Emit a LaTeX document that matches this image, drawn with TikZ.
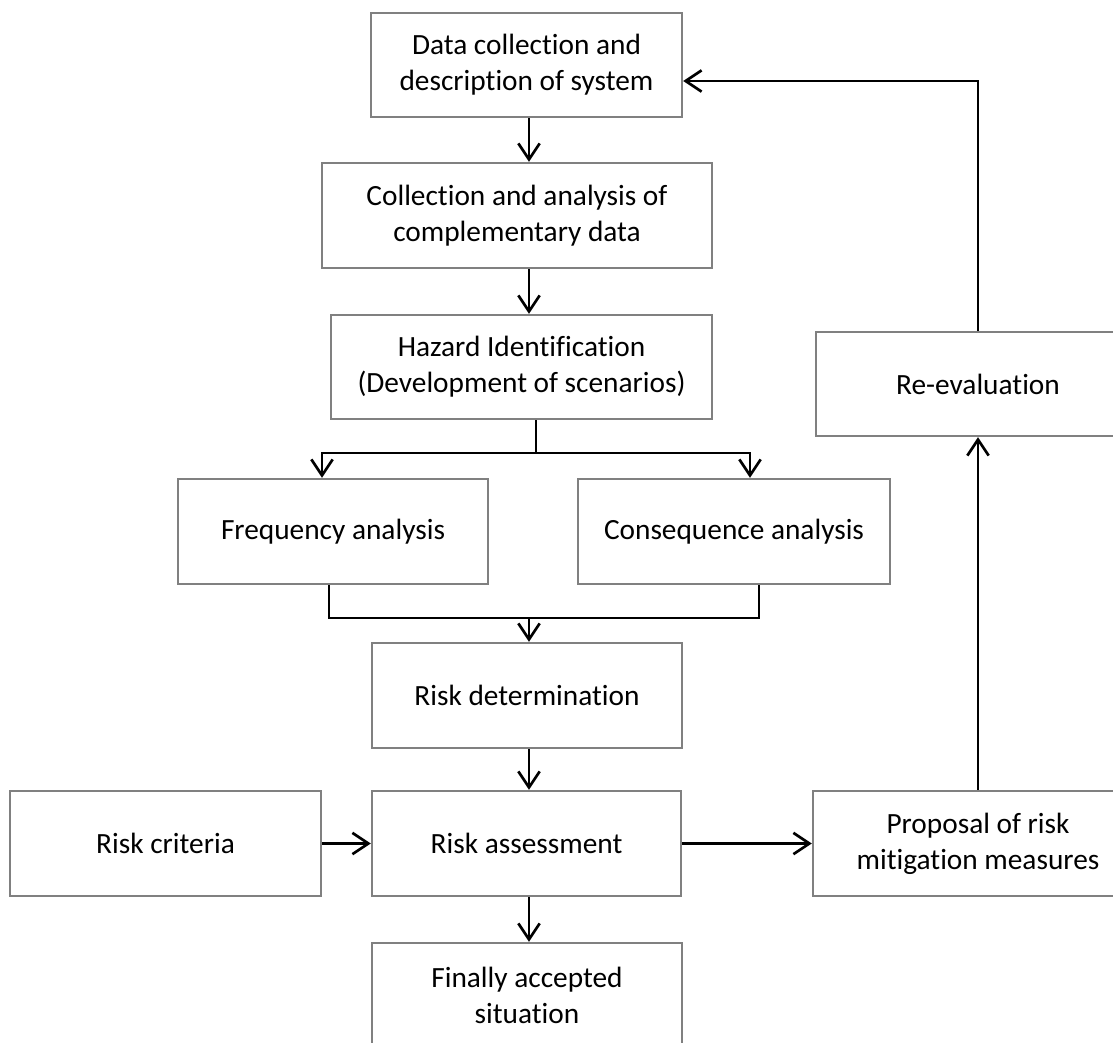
\documentclass[tikz,border=0pt]{standalone}
\usepackage{fontspec}
\setmainfont{Carlito}[Ligatures=NoCommon]
\usetikzlibrary{arrows.meta,positioning}
\definecolor{boxgray}{RGB}{128,128,128}
\tikzset{
  procbox/.style={draw=boxgray, line width=1.8pt, fill=white, align=center, inner sep=0pt, font=\fontsize{22}{27}\selectfont},
  boxsize/.style 2 args={minimum width=#1*0.75pt, minimum height=#2*0.75pt},
  flow/.style={line width=2pt, -{Straight Barb[length=12pt,width=16pt]}},
  link/.style={line width=2pt},
}
\begin{document}
\begin{tikzpicture}[x=0.75pt,y=0.75pt,yscale=-1]
  \useasboundingbox (0,0) rectangle (1113,1042);
  \clip (0,0) rectangle (1113,1042);

  %Shape: Rectangle [main column]
  \node[procbox, boxsize={311}{104}] (datasys) at (526.5,65) {Data collection and\\description of system};
  \node[procbox, boxsize={390}{105}] (compdata) at (517,215.5) {Collection and analysis of\\complementary data};
  \node[procbox, boxsize={381}{104}] (hazard) at (521.5,367) {Hazard Identification\\(Development of scenarios)};
  \node[procbox, boxsize={310}{105}] (freq) at (333,531.5) {Frequency analysis};
  \node[procbox, boxsize={312}{105}] (conseq) at (734,531.5) {Consequence analysis};
  \node[procbox, boxsize={310}{105}] (riskdet) at (527,695.5) {Risk determination};
  \node[procbox, boxsize={311}{105}] (criteria) at (165.5,843.5) {Risk criteria};
  \node[procbox, boxsize={309}{105}] (assess) at (526.5,843.5) {Risk assessment};
  \node[procbox, boxsize={310}{105}] (accepted) at (527,995.5) {Finally accepted\\situation};
  %Shape: Rectangle [feedback column]
  \node[procbox, boxsize={330}{105}] (proposal) at (978,843.5) {Proposal of risk\\mitigation measures};
  \node[procbox, boxsize={324}{104}] (reeval) at (978,384) {Re-evaluation};

  % bends of the connectors
  \coordinate (spine) at (529,0);
  \coordinate (split) at (536,453);
  \coordinate (fa) at (322,453);
  \coordinate (ca) at (750,453);
  \coordinate (fb) at (329,618);
  \coordinate (cb) at (759,618);
  \coordinate (back) at (978,81);

  %Straight Lines
  \draw[flow] (datasys.south -| spine) -- (compdata.north -| spine);
  \draw[flow] (compdata.south -| spine) -- (hazard.north -| spine);
  \draw[link] (hazard.south -| split) -- (split);
  \draw[flow] (split) -- (fa) -- (fa |- freq.north);
  \draw[flow] (split) -- (ca) -- (ca |- conseq.north);
  \draw[link] (fb |- freq.south) -- (fb) -- (cb) -- (cb |- conseq.south);
  \draw[flow] (spine |- fb) -- (spine |- riskdet.north);
  \draw[flow] (riskdet.south -| spine) -- (assess.north -| spine);
  \draw[flow] (criteria.east) -- (assess.west);
  \draw[flow] (assess.east) -- (proposal.west);
  \draw[flow] (assess.south -| spine) -- (accepted.north -| spine);
  %Feedback loop
  \draw[flow] (proposal.north) -- (reeval.south);
  \draw[flow] (reeval.north) -- (back) -- (back -| datasys.east);
\end{tikzpicture}
\end{document}
